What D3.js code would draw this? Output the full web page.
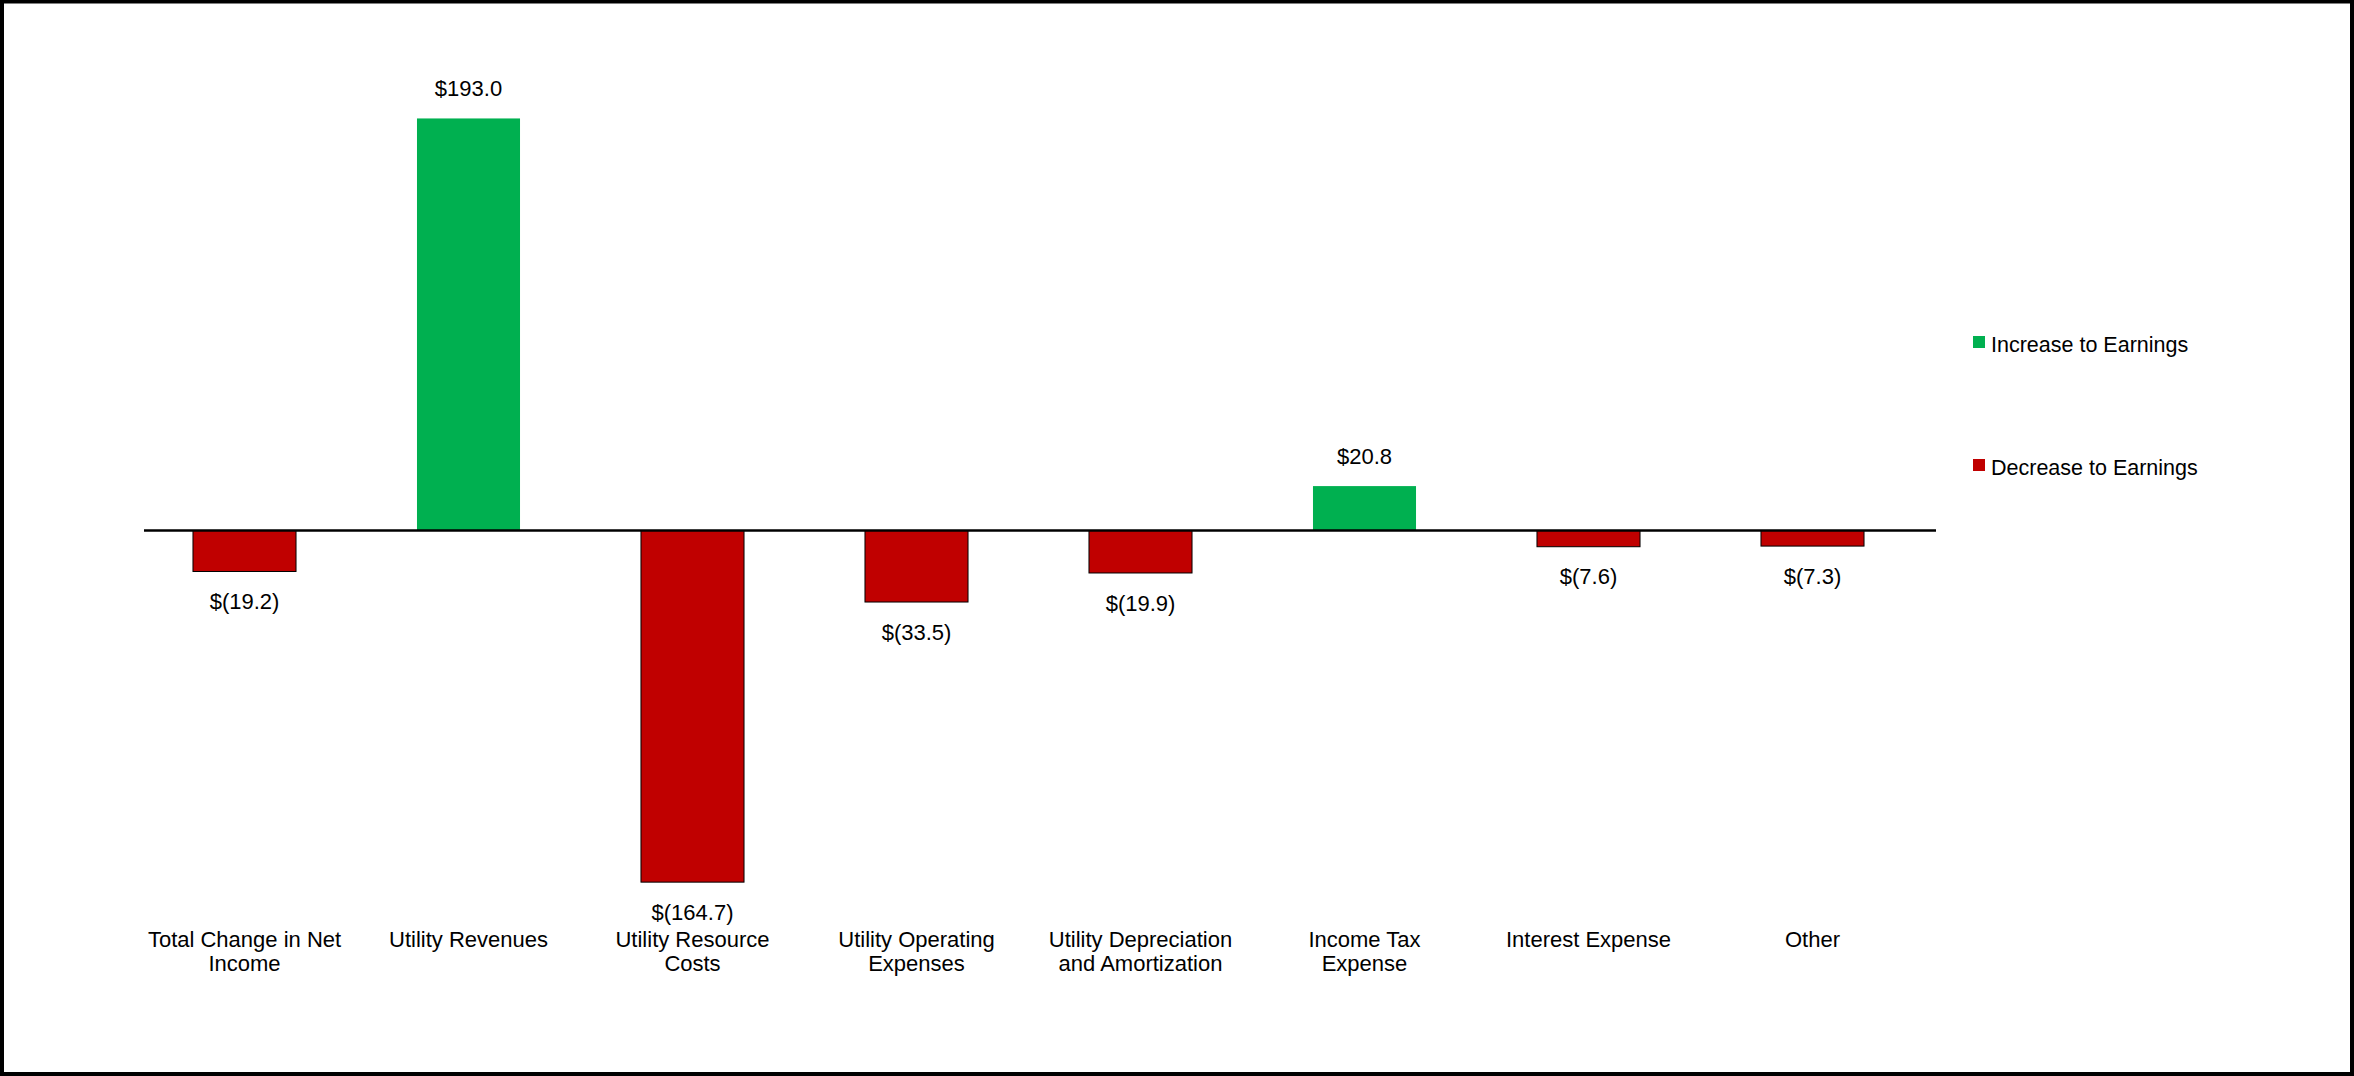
<!DOCTYPE html>
<html>
<head>
<meta charset="utf-8">
<script src="https://cdn.jsdelivr.net/npm/d3@7"></script>
<style>
  body { margin: 0; background: #fff; }
  text { font-family: "Liberation Sans", Arial, sans-serif; fill: #000; }
</style>
</head>
<body>
<div id="chart-container"></div>
<script>
// Change in net income drivers, $ millions
const categories = [
    "Total Change in Net Income",
    "Utility Revenues",
    "Utility Resource Costs",
    "Utility Operating Expenses",
    "Utility Depreciation and Amortization",
    "Income Tax Expense",
    "Interest Expense",
    "Other"
];
const categoryLines = [
    ["Total Change in Net", "Income"],
    ["Utility Revenues"],
    ["Utility Resource", "Costs"],
    ["Utility Operating", "Expenses"],
    ["Utility Depreciation", "and Amortization"],
    ["Income Tax", "Expense"],
    ["Interest Expense"],
    ["Other"]
];
const values = [-19.2, 193.0, -164.7, -33.5, -19.9, 20.8, -7.6, -7.3];
const legendLabels = ["Increase to Earnings", "Decrease to Earnings"];

const chartWidth = 2354;
const chartHeight = 1076;
const axisLeft = 144;
const axisRight = 1936;
const zeroY = 530.5;
const pxPerUnit = 2.135;

const green = "#00B050";
const red = "#C00000";

const data = categories.map((c, i) => ({category: c, lines: categoryLines[i], value: values[i]}));

// band centres sit a little left of the axis line's centre, like the source
const x = d3.scaleBand()
    .domain(categories)
    .range([132.5, 1924.5])
    .paddingInner(0.54)
    .paddingOuter(0.27);

const y = d3.scaleLinear()
    .domain([-200, 200])
    .range([zeroY + 200 * pxPerUnit, zeroY - 200 * pxPerUnit]);

const fmt = v => v < 0 ? "$(" + d3.format(".1f")(-v) + ")" : "$" + d3.format(".1f")(v);

const chart = d3.select("#chart-container").append("svg")
    .attr("width", chartWidth)
    .attr("height", chartHeight);

// outer frame
chart.append("rect")
    .attr("x", 2).attr("y", 1.5)
    .attr("width", chartWidth - 4).attr("height", chartHeight - 3.5)
    .attr("fill", "#fff")
    .attr("stroke", "#000")
    .attr("stroke-width", 4);

// bars
chart.selectAll(".bar")
    .data(data)
    .enter()
    .append("rect")
    .attr("class", "bar")
    .attr("x", d => x(d.category))
    .attr("width", x.bandwidth())
    .attr("y", d => y(Math.max(0, d.value)))
    .attr("height", d => Math.abs(y(d.value) - y(0)))
    .attr("fill", d => d.value >= 0 ? green : red)
    .attr("stroke", d => d.value >= 0 ? "none" : "#000")
    .attr("stroke-width", 1);

// value labels
chart.selectAll(".value-label")
    .data(data)
    .enter()
    .append("text")
    .attr("class", "value-label")
    .attr("x", d => x(d.category) + x.bandwidth() / 2)
    .attr("y", d => y(d.value) + (d.value >= 0 ? -30 : 30))
    .attr("dy", "0.35em")
    .attr("text-anchor", "middle")
    .attr("font-size", 22)
    .text(d => fmt(d.value));

// zero line
chart.append("line")
    .attr("x1", axisLeft).attr("x2", axisRight)
    .attr("y1", y(0)).attr("y2", y(0))
    .attr("stroke", "#000")
    .attr("stroke-width", 2.5);

// category labels
const catLabels = chart.selectAll(".cat-label")
    .data(data)
    .enter()
    .append("text")
    .attr("class", "cat-label")
    .attr("text-anchor", "middle")
    .attr("font-size", 22)
    .attr("transform", d => `translate(${x(d.category) + x.bandwidth() / 2}, 939)`);
catLabels.selectAll("tspan")
    .data(d => d.lines)
    .enter()
    .append("tspan")
    .attr("x", 0)
    .attr("y", (d, i) => i * 24.5)
    .attr("dy", "0.35em")
    .text(d => d);

// legend
const legend = chart.selectAll(".legend")
    .data(legendLabels)
    .enter()
    .append("g")
    .attr("class", "legend")
    .attr("transform", (d, i) => `translate(1973, ${342 + i * 123})`);
legend.append("rect")
    .attr("x", 0).attr("y", -6)
    .attr("width", 12).attr("height", 12)
    .attr("fill", (d, i) => i === 0 ? green : red);
legend.append("text")
    .attr("x", 18)
    .attr("y", 2)
    .attr("dy", "0.35em")
    .attr("font-size", 21.5)
    .text(d => d);
</script>
</body>
</html>
